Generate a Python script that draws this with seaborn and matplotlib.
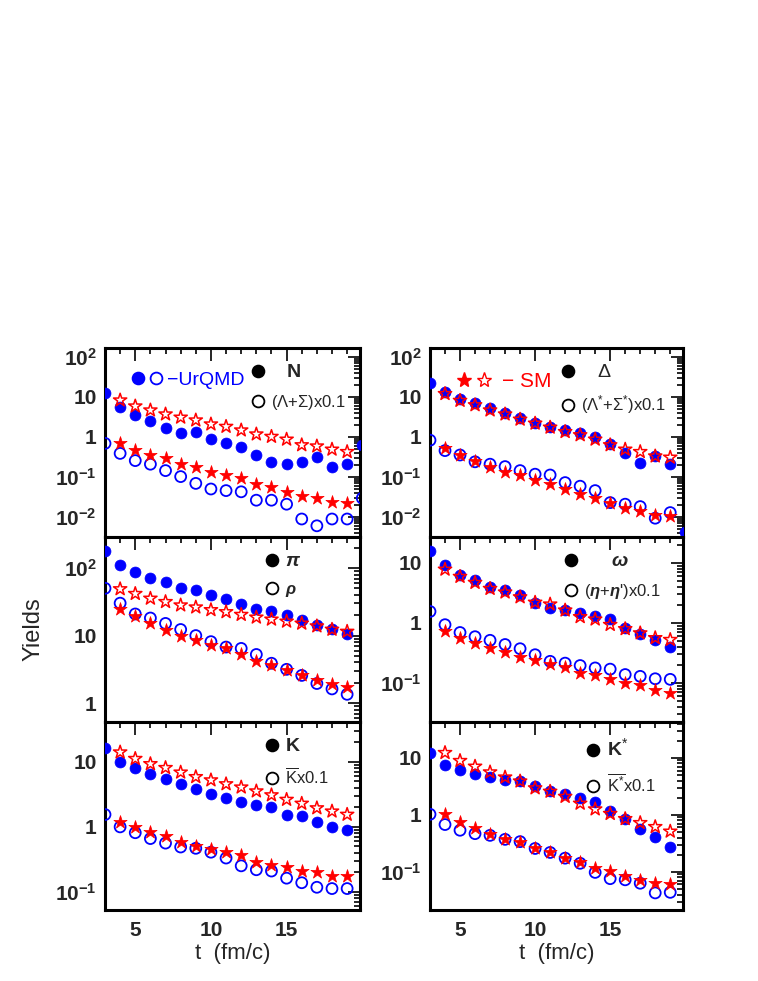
import numpy as np
import pandas as pd
import matplotlib
matplotlib.use("Agg")
import matplotlib.pyplot as plt
import matplotlib.ticker as mticker
from matplotlib.lines import Line2D
from matplotlib.legend_handler import HandlerTuple
import seaborn as sns

# time points (fm/c)
t_uq = list(range(3, 21))   # UrQMD, 3..20 (edge points get clipped)
t_sm = list(range(4, 20))   # SM, 4..19

# values as log10(yield)
# top-left: N / (Lambda+Sigma)x0.1
n_uq = [1.09, 0.76, 0.55, 0.41, 0.22, 0.11, 0.13, -0.04, -0.16, -0.26, -0.45, -0.62, -0.68, -0.63, -0.49, -0.74, -0.68, -0.20]
ls_uq = [-0.16, -0.41, -0.59, -0.68, -0.84, -0.99, -1.16, -1.30, -1.34, -1.37, -1.58, -1.58, -1.68, -2.05, -2.22, -2.05, -2.05, -1.53]
n_sm = [0.92, 0.77, 0.67, 0.57, 0.49, 0.42, 0.32, 0.26, 0.17, 0.07, 0.01, -0.06, -0.20, -0.23, -0.31, -0.37]
ls_sm = [-0.16, -0.33, -0.45, -0.53, -0.68, -0.74, -0.87, -0.95, -1.03, -1.18, -1.24, -1.37, -1.47, -1.53, -1.62, -1.66]

# top-right: Delta / (Lambda*+Sigma*)x0.1
d_uq = [1.34, 1.13, 0.94, 0.84, 0.72, 0.61, 0.47, 0.36, 0.26, 0.17, 0.09, -0.01, -0.18, -0.39, -0.64, -0.48, -0.68, -2.37]
lss_uq = [-0.08, -0.34, -0.45, -0.62, -0.68, -0.74, -0.84, -0.93, -0.95, -1.14, -1.23, -1.34, -1.64, -1.68, -1.74, -2.03, -1.89, np.nan]
d_sm = [1.08, 0.91, 0.80, 0.67, 0.57, 0.44, 0.34, 0.24, 0.13, 0.05, -0.06, -0.20, -0.31, -0.37, -0.48, -0.51]
lss_sm = [-0.28, -0.45, -0.59, -0.74, -0.87, -0.95, -1.08, -1.18, -1.31, -1.43, -1.53, -1.66, -1.78, -1.84, -1.95, -1.98]

# middle-left: pi / rho
pi_uq = [2.25, 2.05, 1.94, 1.85, 1.79, 1.70, 1.67, 1.60, 1.54, 1.47, 1.40, 1.36, 1.31, 1.23, 1.15, 1.10, 1.03, np.nan]
rho_uq = [1.70, 1.48, 1.32, 1.26, 1.18, 1.09, 1.00, 0.91, 0.83, 0.81, 0.72, 0.59, 0.50, 0.41, 0.29, 0.21, 0.13, np.nan]
pi_sm = [1.69, 1.62, 1.55, 1.50, 1.45, 1.42, 1.38, 1.35, 1.31, 1.27, 1.24, 1.21, 1.18, 1.14, 1.09, 1.06]
rho_sm = [1.40, 1.29, 1.18, 1.09, 1.00, 0.94, 0.86, 0.81, 0.72, 0.63, 0.56, 0.49, 0.41, 0.34, 0.28, 0.24]

# middle-right: omega / (eta+eta')x0.1
om_uq = [1.19, 0.96, 0.79, 0.71, 0.59, 0.54, 0.47, 0.33, 0.25, 0.21, 0.17, 0.12, 0.07, -0.08, -0.19, -0.29, -0.40, np.nan]
eta_uq = [0.19, -0.03, -0.16, -0.23, -0.29, -0.36, -0.43, -0.53, -0.64, -0.67, -0.71, -0.75, -0.77, -0.86, -0.89, -0.93, -0.94, np.nan]
om_sm = [0.89, 0.77, 0.67, 0.57, 0.51, 0.43, 0.34, 0.31, 0.21, 0.10, 0.06, -0.03, -0.10, -0.17, -0.25, -0.28]
eta_sm = [-0.14, -0.25, -0.34, -0.42, -0.49, -0.56, -0.62, -0.69, -0.73, -0.83, -0.87, -0.93, -1.00, -1.04, -1.11, -1.16]

# bottom-left: K / Kbar x0.1
k_uq = [1.22, 1.00, 0.91, 0.82, 0.73, 0.66, 0.59, 0.51, 0.44, 0.38, 0.34, 0.30, 0.19, 0.16, 0.08, 0.00, -0.05, np.nan]
kb_uq = [0.19, 0.00, -0.09, -0.18, -0.25, -0.31, -0.33, -0.39, -0.48, -0.60, -0.66, -0.68, -0.79, -0.86, -0.93, -0.95, -0.95, np.nan]
k_sm = [1.15, 1.05, 0.97, 0.91, 0.84, 0.77, 0.72, 0.66, 0.61, 0.55, 0.49, 0.42, 0.36, 0.29, 0.24, 0.19]
kb_sm = [0.08, 0.00, -0.08, -0.14, -0.23, -0.29, -0.34, -0.39, -0.44, -0.54, -0.59, -0.62, -0.68, -0.70, -0.75, -0.75]

# bottom-right: K* / Kbar* x0.1
ks_uq = [1.09, 0.88, 0.78, 0.72, 0.67, 0.62, 0.59, 0.51, 0.42, 0.36, 0.30, 0.23, 0.06, -0.08, -0.25, -0.39, -0.57, np.nan]
ksb_uq = [0.01, -0.17, -0.27, -0.33, -0.36, -0.43, -0.47, -0.59, -0.66, -0.76, -0.85, -1.01, -1.12, -1.14, -1.20, -1.37, -1.36, np.nan]
ks_sm = [1.09, 0.95, 0.85, 0.75, 0.66, 0.59, 0.47, 0.41, 0.32, 0.20, 0.10, 0.02, -0.07, -0.14, -0.21, -0.29]
ksb_sm = [0.01, -0.12, -0.23, -0.33, -0.42, -0.48, -0.59, -0.66, -0.75, -0.83, -0.94, -0.98, -1.08, -1.14, -1.20, -1.22]

panels = [
    # uq filled, uq open, sm upper (open star), sm lower (filled star), ylim exponents, tick exponents, labels
    (n_uq, ls_uq, n_sm, ls_sm, (-2.5, 2.225), [-2, -1, 0, 1, 2], "   N", r"($\Lambda$+$\Sigma$)x0.1"),
    (d_uq, lss_uq, d_sm, lss_sm, (-2.5, 2.225), [-2, -1, 0, 1, 2], r"   $\Delta$", r"($\Lambda^{*}$+$\Sigma^{*}$)x0.1"),
    (pi_uq, rho_uq, pi_sm, rho_sm, (-0.28, 2.46), [0, 1, 2], r"$\pi$", r"$\rho$"),
    (om_uq, eta_uq, om_sm, eta_sm, (-1.65, 1.43), [-1, 0, 1], r"     $\omega$", r"($\eta$+$\eta$')x0.1"),
    (k_uq, kb_uq, k_sm, kb_sm, (-1.28, 1.615), [-1, 0, 1], "K", r"$\overline{\rm K}$x0.1"),
    (ks_uq, ksb_uq, ks_sm, ksb_sm, (-1.67, 1.63), [-1, 0, 1], r"K$^{*}$", r"$\overline{\rm K^{*}}$x0.1"),
]
legend_x = [0.535, 0.48, 0.59, 0.49, 0.59, 0.58]

sns.set_style("white")
plt.rcParams['font.family'] = ['Liberation Sans', 'DejaVu Sans']
plt.rcParams['mathtext.fontset'] = 'custom'
plt.rcParams['mathtext.rm'] = 'Liberation Sans'
plt.rcParams['mathtext.it'] = 'Liberation Sans:italic:bold'
plt.rcParams['mathtext.bf'] = 'Liberation Sans:bold'

BLUE = "#0000ff"
RED = "#ff0000"

fig = plt.figure(figsize=(7.58, 9.81), dpi=100)
lefts = [105 / 758, 430 / 758]
widths = [255 / 758, 253 / 758]
bottoms = [1 - 537 / 981, 1 - 722 / 981, 1 - 910 / 981]
heights = [189 / 981, 185 / 981, 188 / 981]


def tick_label(e):
    if e == 0:
        return "1"
    if e == 1:
        return "10"
    return r"$\mathbf{10^{%d}}$" % e


def circ(filled, color):
    return Line2D([], [], ls="", marker="o", ms=8.5, mec=color, mew=1.3,
                  mfc=color if filled else "none")


def star(filled, color):
    return Line2D([], [], ls="", marker="*", ms=11, mec=color, mew=1.0,
                  mfc=color if filled else "none")


for i, (uq_f, uq_o, sm_u, sm_l, ylim, texps, lab1, lab2) in enumerate(panels):
    row, col = divmod(i, 2)
    ax = fig.add_axes([lefts[col], bottoms[row], widths[col], heights[row]])
    du = pd.DataFrame({"t": t_uq, "f": 10 ** np.array(uq_f, float), "o": 10 ** np.array(uq_o, float)})
    ds = pd.DataFrame({"t": t_sm, "u": 10 ** np.array(sm_u), "l": 10 ** np.array(sm_l)})

    sns.scatterplot(data=du, x="t", y="f", ax=ax, marker="o", s=62, color=BLUE, edgecolor=BLUE, linewidth=0.5, zorder=3)
    sns.scatterplot(data=du, x="t", y="o", ax=ax, marker="o", s=62, facecolor="none", edgecolor=BLUE, linewidth=1.3, zorder=3)
    sns.scatterplot(data=ds, x="t", y="u", ax=ax, marker="*", s=100, facecolor="none", edgecolor=RED, linewidth=1.1, zorder=4)
    sns.scatterplot(data=ds, x="t", y="l", ax=ax, marker="*", s=100, color=RED, edgecolor=RED, linewidth=0.5, zorder=4)

    ax.set_yscale("log")
    ax.set_xlim(3, 19.85)
    ax.set_ylim(10 ** ylim[0], 10 ** ylim[1])
    ax.yaxis.set_major_locator(mticker.FixedLocator([10.0 ** e for e in texps]))
    ax.yaxis.set_major_formatter(mticker.FixedFormatter([tick_label(e) for e in texps]))
    ax.yaxis.set_minor_locator(mticker.LogLocator(base=10, subs=np.arange(2, 10), numticks=20))
    ax.yaxis.set_minor_formatter(mticker.NullFormatter())
    ax.xaxis.set_major_locator(mticker.FixedLocator([5, 10, 15]))
    ax.xaxis.set_minor_locator(mticker.MultipleLocator(1))

    ax.tick_params(which="both", direction="in", top=True, right=True, width=1.4)
    ax.tick_params(which="major", length=9)
    ax.tick_params(which="minor", length=4.5)
    ax.tick_params(axis="y", labelsize=15, pad=6)
    ax.tick_params(axis="x", labelsize=15, pad=8)
    for lab in ax.get_yticklabels() + ax.get_xticklabels():
        lab.set_fontweight("bold")
    for sp in ax.spines.values():
        sp.set_linewidth(2.2)
        sp.set_color("black")

    ax.set_ylabel("")
    if row < 2:
        ax.set_xlabel("")
        ax.tick_params(axis="x", labelbottom=False)
    else:
        ax.set_xlabel("t  (fm/c)", fontsize=16, labelpad=2)

    # species legend (black markers)
    leg = ax.legend([circ(True, "black"), circ(False, "black")], [lab1, lab2],
                    loc="upper left", bbox_to_anchor=(legend_x[i], 0.97), frameon=False,
                    handlelength=0.8, handletextpad=0.4, labelspacing=0.75, fontsize=12,
                    borderaxespad=0.2)
    leg.get_texts()[0].set_fontweight("bold")
    leg.get_texts()[0].set_fontsize(14)
    if i == 0:
        ax.add_artist(leg)
        ax.legend([(circ(True, BLUE), circ(False, BLUE))], ["−UrQMD"],
                  handler_map={tuple: HandlerTuple(ndivide=None, pad=0.15)},
                  loc="upper left", bbox_to_anchor=(0.03, 0.97), frameon=False,
                  handlelength=1.7, handletextpad=0.2, fontsize=14, labelcolor=BLUE)
    if i == 1:
        ax.add_artist(leg)
        ax.legend([(star(True, RED), star(False, RED))], ["− SM"],
                  handler_map={tuple: HandlerTuple(ndivide=None, pad=0.15)},
                  loc="upper left", bbox_to_anchor=(0.03, 0.97), frameon=False,
                  handlelength=1.7, handletextpad=0.5, fontsize=15, labelcolor=RED)
    if i == 2:
        ax.set_ylabel("Yields", fontsize=17, labelpad=14)

fig.savefig("out.png", dpi=100)
